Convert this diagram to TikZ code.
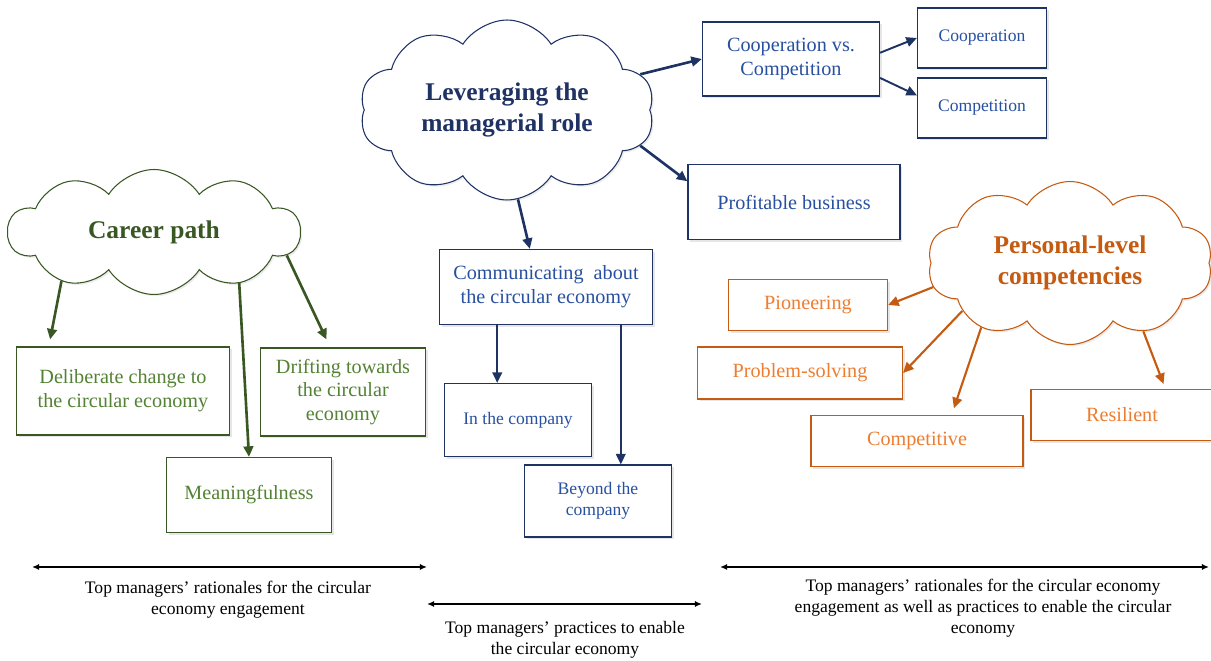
\documentclass[tikz,border=0pt]{standalone}
\usepackage{fontspec}
\setmainfont{Liberation Serif}
\usetikzlibrary{arrows.meta,shapes.symbols,shadows}
\definecolor{grnline}{RGB}{56,87,35}
\definecolor{grntext}{RGB}{84,130,53}
\definecolor{bluline}{RGB}{31,50,100}
\definecolor{blutext}{RGB}{40,80,160}
\definecolor{orgline}{RGB}{197,90,17}
\definecolor{orgtext}{RGB}{237,125,49}
\tikzset{
    box/.style={draw, fill=white, line width=0.7pt, align=center, inner sep=2pt,
        font=\fontsize{11.5}{13.6}\selectfont,
        drop shadow={opacity=0.2, shadow xshift=1.2pt, shadow yshift=-1.2pt}}, % rectangle boxes
    small box/.style={box, font=\fontsize{10}{12}\selectfont}, % smaller text
    idea/.style={cloud, cloud puffs=10, cloud puff arc=115, cloud ignores aspect, draw, fill=white,
        line width=0.6pt, align=center, font=\fontsize{14.5}{18}\selectfont\bfseries,
        drop shadow={opacity=0.15, shadow xshift=1pt, shadow yshift=-1pt}}, % cloud titles
    link/.style={-{Triangle[length=6pt, width=5.5pt]}, line width=1.5pt}, % connectors
    spanarrow/.style={{Latex[length=4pt, width=3.5pt]}-{Latex[length=4pt, width=3.5pt]}, line width=0.9pt}, % bottom ranges
    caption/.style={align=center, font=\fontsize{10}{11.8}\selectfont} % bottom texts
}
\begin{document}
\begin{tikzpicture}[x=0.02cm, y=-0.02cm]
    \useasboundingbox (0,0) rectangle (1211,661);
    \clip (0,0) rectangle (1211,661);

    % middle part
    \node[idea, draw=bluline, text=bluline, minimum width=5.9cm, minimum height=3.6cm] (lev) at (507,110) {Leveraging the\\managerial role};
    \node[box, draw=bluline, text=blutext, minimum width=3.54cm, minimum height=1.48cm] (coopvs) at (791,59) {Cooperation vs.\\Competition};
    \node[small box, draw=bluline, text=blutext, minimum width=2.58cm, minimum height=1.2cm] (coop) at (982,38) {Cooperation};
    \node[small box, draw=bluline, text=blutext, minimum width=2.58cm, minimum height=1.2cm] (comp) at (982,108) {Competition};
    \node[box, draw=bluline, text=blutext, minimum width=4.24cm, minimum height=1.5cm] (profit) at (794,202) {Profitable business};
    \node[box, draw=bluline, text=blutext, minimum width=4.26cm, minimum height=1.5cm] (comm) at (546,287) {Communicating \ about\\the circular economy};
    \node[small box, draw=bluline, text=blutext, minimum width=2.94cm, minimum height=1.46cm] (inco) at (518,420) {In the company};
    \node[small box, draw=bluline, text=blutext, minimum width=2.94cm, minimum height=1.44cm] (beyond) at (598,501) {Beyond the\\company};

    \draw[link, bluline] (lev.15) -- (coopvs.west);
    \draw[link, bluline] (lev.-15) -- (profit.169);
    \draw[link, bluline] (lev.-83) -- (comm.113);
    \draw[link, bluline, line width=1.1pt] (coopvs.4.5) -- (coop.west);
    \draw[link, bluline, line width=1.1pt] (coopvs.-12) -- (comp.169.5);
    \draw[link, bluline, line width=1.1pt] (comm.-142) -- (comm.-142 |- inco.north);
    \draw[link, bluline, line width=1.1pt] (comm.-27.5) -- (comm.-27.5 |- beyond.north);

    % left part
    \node[idea, draw=grnline, text=grnline, minimum width=5.84cm, minimum height=2.5cm] (car) at (154,232) {Career path};
    \node[box, draw=grnline, text=grntext, minimum width=4.26cm, minimum height=1.76cm] (delib) at (123,391) {Deliberate change to\\the circular economy};
    \node[box, draw=grnline, text=grntext, minimum width=3.3cm, minimum height=1.76cm] (drift) at (343,392) {Drifting towards\\the circular\\economy};
    \node[box, draw=grnline, text=grntext, minimum width=3.3cm, minimum height=1.5cm] (mean) at (249,495) {Meaningfulness};

    \draw[link, grnline, shorten >=4pt] (car.-152) -- (delib.149);
    \draw[link, grnline] (car.-31) -- (mean.north);
    \draw[link, grnline, shorten >=5pt] (car.-10) -- (drift.106);

    % right part
    \node[idea, draw=orgline, text=orgline, minimum width=5.7cm, minimum height=3.26cm] (pers) at (1070,263) {Personal-level\\competencies};
    \node[box, draw=orgline, text=orgtext, minimum width=3.18cm, minimum height=1.02cm] (pion) at (808,305) {Pioneering};
    \node[box, draw=orgline, text=orgtext, minimum width=4.1cm, minimum height=1.04cm] (prob) at (800,373) {Problem-solving};
    \node[box, draw=orgline, text=orgtext, minimum width=4.24cm, minimum height=1.02cm] (compet) at (917,441) {Competitive};
    \node[box, draw=orgline, text=orgtext, minimum width=3.64cm, minimum height=1.02cm] (resil) at (1122,415) {Resilient};

    \draw[link, orgline, line width=1.2pt] (pers.-170) -- (pion.east);
    \draw[link, orgline, line width=1.2pt] (pers.-156) -- (prob.east);
    \draw[link, orgline, line width=1.2pt, shorten >=4pt] (pers.-144) -- (compet.37);
    \draw[link, orgline, line width=1.2pt, shorten >=3pt] (pers.-43.5) -- (resil.31);

    % bottom ranges
    \coordinate (ra) at (32,567); \coordinate (rb) at (427,567);
    \coordinate (pa) at (427,604); \coordinate (pb) at (702,604);
    \coordinate (sa) at (720,567); \coordinate (sb) at (1209,567);
    \foreach \a/\b in {ra/rb, pa/pb, sa/sb} {\draw[spanarrow] (\a) -- (\b);}

    \node[caption] (rtext) at (228,600) {Top managers’ rationales for the circular\\economy engagement};
    \node[caption] (ptext) at (565,640) {Top managers’ practices to enable\\the circular economy};
    \node[caption] (stext) at (983,608) {Top managers’ rationales for the circular economy\\engagement as well as practices to enable the circular\\economy};
\end{tikzpicture}
\end{document}
